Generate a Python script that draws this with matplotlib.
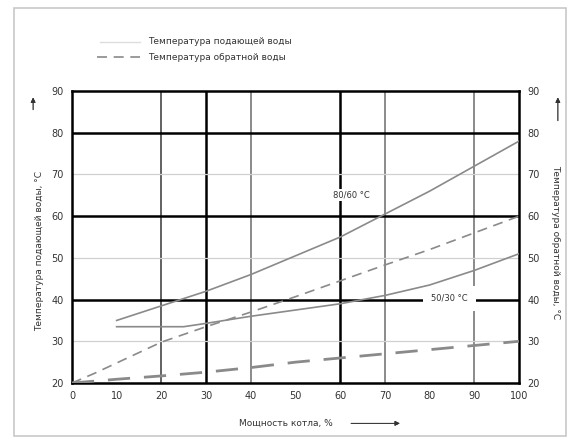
import matplotlib
matplotlib.use('Agg')
import matplotlib.pyplot as plt
from matplotlib.patches import Rectangle

plt.rcParams['font.family'] = ['DejaVu Sans']

# мощность котла, %
load_hi = [10, 20, 30, 40, 50, 60, 70, 80, 90, 100]
supply_hi = [35, 38.5, 42, 46, 50.5, 55, 60.5, 66, 72, 78]
load_ret_hi = [0, 5, 10, 20, 30, 40, 50, 60, 70, 80, 90, 100]
return_hi = [20, 22.3, 24.8, 29.8, 33.5, 37, 40.7, 44.5, 48.3, 52, 56, 60]

load_lo = [10, 20, 25, 30, 40, 50, 60, 70, 80, 90, 100]
supply_lo = [33.5, 33.5, 33.5, 34.3, 36, 37.5, 39, 41, 43.5, 47, 51]
load_ret_lo = [0, 10, 20, 30, 40, 50, 60, 70, 80, 90, 100]
return_lo = [20, 20.9, 21.7, 22.6, 23.7, 25, 26, 27, 28, 29, 30]

xticks = list(range(0, 101, 10))
yticks = list(range(20, 91, 10))

fig = plt.figure(figsize=(5.71, 4.41), dpi=100)
fig.patch.set_facecolor('white')
fig.add_artist(Rectangle((0.024, 0.012), 0.968, 0.97, transform=fig.transFigure,
                         fill=False, edgecolor='#c8c8c8', lw=1.2))
ax = fig.add_axes([0.126, 0.1315, 0.783, 0.662])

# сетка
for x, c, w in [(20, '#555555', 1.3), (30, 'black', 1.8), (40, '#777777', 1.2),
                (60, 'black', 1.8), (70, '#777777', 1.2), (90, '#777777', 1.2)]:
    ax.axvline(x, color=c, lw=w, zorder=1)
for y in [30, 50, 70]:
    ax.axhline(y, color='#d0d0d0', lw=0.9, zorder=1)
for y in [40, 60, 80]:
    ax.axhline(y, color='black', lw=1.8, zorder=1)

gray = '#8a8a8a'
ax.plot(load_hi, supply_hi, color=gray, lw=1.2, zorder=5)
ax.plot(load_ret_hi, return_hi, color=gray, lw=1.2, ls=(0, (6, 4)), zorder=5)
ax.plot(load_lo, supply_lo, color=gray, lw=1.2, zorder=5)
ax.plot(load_ret_lo, return_lo, color=gray, lw=2.0, ls=(0, (8, 5)), zorder=5)

ax.text(62.5, 65, '80/60 °C', fontsize=6, color='#333333', ha='center', va='center',
        zorder=4, bbox=dict(facecolor='white', edgecolor='none', pad=1))
ax.text(84.5, 40.3, '50/30 °C', fontsize=6, color='#333333', ha='center', va='center',
        zorder=4, bbox=dict(facecolor='white', edgecolor='none', pad=6))

ax.set_xlim(0, 100)
ax.set_ylim(20, 90)
ax.set_xticks(xticks)
ax.set_yticks(yticks)
ax.tick_params(length=0, labelsize=7, colors='#333333', pad=6)
for s in ax.spines.values():
    s.set_linewidth(1.8)
    s.set_color('black')

ax2 = ax.twinx()
ax2.set_ylim(20, 90)
ax2.set_yticks(yticks)
ax2.tick_params(length=0, labelsize=7, colors='#333333', pad=6)
for s in ax2.spines.values():
    s.set_visible(False)

# подписи осей
fig.text(0.07, 0.43, 'Температура подающей воды, °С', rotation=90, fontsize=6.5,
         color='#333333', ha='center', va='center')
fig.text(0.973, 0.45, 'Температура обратной воды, °С', rotation=-90, fontsize=6.5,
         color='#333333', ha='center', va='center')
fig.text(0.5, 0.04, 'Мощность котла, %', fontsize=6.5, color='#333333',
         ha='center', va='center')
arrow = dict(arrowstyle='-|>', color='#333333', lw=0.6, mutation_scale=7)
fig.add_artist(plt.annotate('', xy=(0.058, 0.785), xytext=(0.058, 0.745),
                            xycoords='figure fraction', arrowprops=arrow))
fig.add_artist(plt.annotate('', xy=(0.977, 0.785), xytext=(0.977, 0.72),
                            xycoords='figure fraction', arrowprops=arrow))
fig.add_artist(plt.annotate('', xy=(0.705, 0.04), xytext=(0.61, 0.04),
                            xycoords='figure fraction', arrowprops=arrow))

# легенда
fig.add_artist(plt.Line2D([0.175, 0.245], [0.905, 0.905], color='#dddddd', lw=1.0,
                          transform=fig.transFigure))
fig.text(0.26, 0.905, 'Температура подающей воды', fontsize=6.5, color='#333333',
         va='center')
fig.add_artist(plt.Line2D([0.17, 0.245], [0.87, 0.87], color=gray, lw=1.2,
                          ls=(0, (6, 4)), transform=fig.transFigure))
fig.text(0.26, 0.87, 'Температура обратной воды', fontsize=6.5, color='#333333',
         va='center')

plt.savefig('out.png', dpi=100, facecolor='white')
